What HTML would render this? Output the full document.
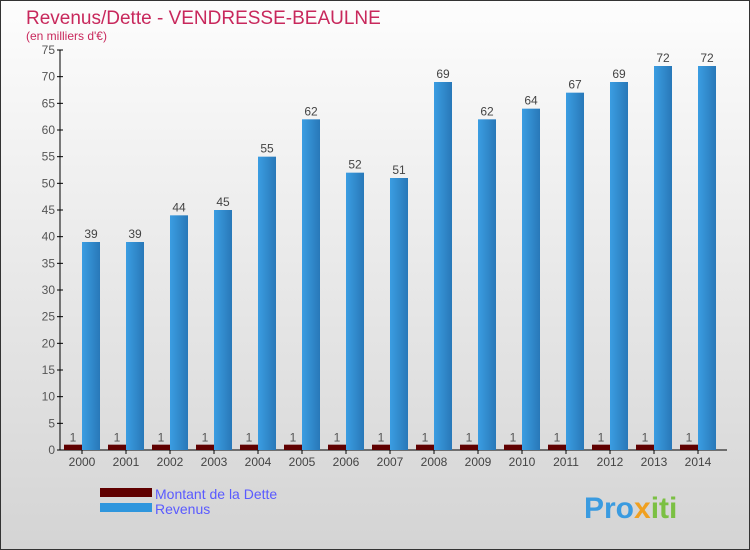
<!DOCTYPE html>
<html><head><meta charset="utf-8"><style>
body{margin:0}
#c{width:750px;height:550px;position:relative;overflow:hidden;font-family:"Liberation Sans",sans-serif}
</style></head><body>
<div id="c">
<svg width="750" height="550" xmlns="http://www.w3.org/2000/svg" id="svg">
<defs>
<linearGradient id="bg" x1="0" y1="0" x2="0" y2="1"><stop offset="0" stop-color="#fdfdfd"/><stop offset="1" stop-color="#d4d4d4"/></linearGradient>
<linearGradient id="rv" x1="0" y1="0" x2="1" y2="0"><stop offset="0" stop-color="#3b9de2"/><stop offset="1" stop-color="#2878b8"/></linearGradient>
</defs>
<rect x="0.5" y="0.5" width="749" height="549" fill="url(#bg)" stroke="#333"/>
<text x="26" y="24" font-size="19" font-weight="300" fill="#c8285c">Revenus/Dette - VENDRESSE-BEAULNE</text>
<text x="26" y="40" font-size="12" fill="#c8285c">(en milliers d'€)</text>
<g id="axes"></g>
<g id="bars"></g>
<rect x="100" y="488" width="52" height="9" fill="#600000"/>
<rect x="100" y="503" width="52" height="9" fill="#2f96dd"/>
<text x="155" y="499" font-size="14" fill="#5a5aff">Montant de la Dette</text>
<text x="155" y="514" font-size="14" fill="#5a5aff">Revenus</text>
<text x="584" y="518" font-size="30" font-weight="bold" fill="#3a9be0">Pro<tspan fill="#f0a020">x</tspan><tspan fill="#7bc043">iti</tspan></text>
</svg>
</div>
<script>
const years=["2000","2001","2002","2003","2004","2005","2006","2007","2008","2009","2010","2011","2012","2013","2014"];
const dette=[1,1,1,1,1,1,1,1,1,1,1,1,1,1,1];
const revenus=[39,39,44,45,55,62,52,51,69,62,64,67,69,72,72];
const yTicks=[0,5,10,15,20,25,30,35,40,45,50,55,60,65,70,75];
const NS="http://www.w3.org/2000/svg";
const y=v=>450-v*400/75;
const xc=i=>82+i*44;
function mk(tag,attrs,parent){const e=document.createElementNS(NS,tag);for(const k in attrs)e.setAttribute(k,attrs[k]);parent.appendChild(e);return e;}
const ax=document.getElementById('axes'),bars=document.getElementById('bars');
let l=mk('line',{x1:60,y1:y(75),x2:60,y2:450,stroke:'#000'},ax);


l=mk('line',{x1:60,y1:450,x2:727,y2:450,stroke:'#000'},ax);


yTicks.forEach(t=>{
  const tk=mk('line',{x1:57,y1:y(t),x2:63,y2:y(t),stroke:'#000'},ax);
  
  
  const tx=mk('text',{x:55,y:y(t)+4,'font-size':12,fill:'#555','text-anchor':'end'},ax);
  tx.textContent=t;
  
  
});
years.forEach((yr,i)=>{
  const c=xc(i);
  const tk=mk('line',{x1:c,y1:450,x2:c,y2:454,stroke:'#000'},ax);
  
  
  const tx=mk('text',{x:c,y:466,'font-size':12,fill:'#444','text-anchor':'middle'},ax);
  tx.textContent=yr;
  
  
  const d=mk('rect',{x:c-18,y:y(dette[i]),width:18,height:450-y(dette[i]),fill:'#600000'},bars);
  
  
  const r=mk('rect',{x:c,y:y(revenus[i]),width:18,height:450-y(revenus[i]),fill:'url(#rv)'},bars);
  
  
  const dl=mk('text',{x:c-9,y:y(dette[i])-3,'font-size':12,fill:'#555','text-anchor':'middle'},bars);
  dl.textContent=dette[i];
  
  
  const rl=mk('text',{x:c+9,y:y(revenus[i])-4,'font-size':12,fill:'#444','text-anchor':'middle'},bars);
  rl.textContent=revenus[i];
  
  
});
</script>
</body></html>
